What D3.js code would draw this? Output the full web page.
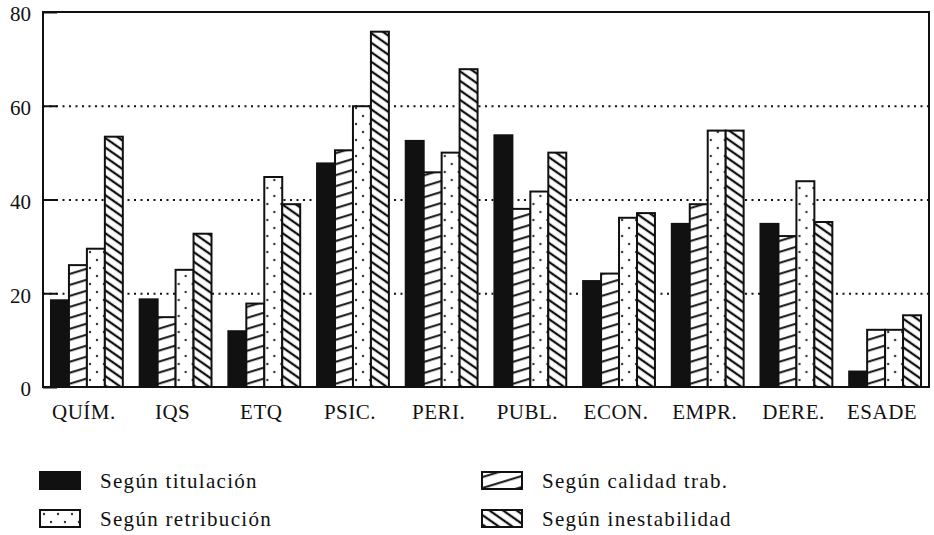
<!DOCTYPE html>
<html>
<head>
<meta charset="utf-8">
<script src="https://cdn.jsdelivr.net/npm/d3@7"></script>
<style>
body { margin: 0; background: white; }
svg text { font-family: "Liberation Serif", "Times New Roman", serif; fill: #111; }
.axis text { font-size: 21px; }
.legend text { font-size: 21px; letter-spacing: 1.3px; }
</style>
</head>
<body>
<script>

const categories = ["QUÍM.", "IQS", "ETQ", "PSIC.", "PERI.", "PUBL.", "ECON.", "EMPR.", "DERE.", "ESADE"];
const titulacion    = [18.5, 18.7, 11.9, 47.7, 52.5, 53.7, 22.6, 34.8, 34.8, 3.3];
const calidad       = [26.0, 14.9, 17.8, 50.5, 45.8, 38.0, 24.2, 39.0, 32.2, 12.2];
const retribucion   = [29.5, 25.0, 44.8, 59.9, 50.0, 41.7, 36.1, 54.7, 43.9, 12.2];
const inestabilidad = [53.4, 32.7, 39.0, 75.8, 67.8, 50.0, 37.1, 54.7, 35.2, 15.3];
const yTicks = [0, 20, 40, 60, 80];

const series = [
  {key: "titulacion", label: "Según titulación", values: titulacion, fill: "#111"},
  {key: "calidad", label: "Según calidad trab.", values: calidad, fill: "url(#slash)"},
  {key: "retribucion", label: "Según retribución", values: retribucion, fill: "url(#dots)"},
  {key: "inestabilidad", label: "Según inestabilidad", values: inestabilidad, fill: "url(#backslash)"}
];

const svg = d3.select("body").append("svg")
  .attr("width", 934)
  .attr("height", 535);

// patterns
const defs = svg.append("defs");
const slash = defs.append("pattern").attr("id", "slash")
  .attr("patternUnits", "userSpaceOnUse")
  .attr("width", 10).attr("height", 10.5)
  .attr("patternTransform", "rotate(-17)");
slash.append("rect").attr("width", 10).attr("height", 10.5).attr("fill", "white");
slash.append("line").attr("x1", 0).attr("x2", 10).attr("y1", 5).attr("y2", 5)
  .attr("stroke", "#111").attr("stroke-width", 2);

const back = defs.append("pattern").attr("id", "backslash")
  .attr("patternUnits", "userSpaceOnUse")
  .attr("width", 10).attr("height", 7.8)
  .attr("patternTransform", "rotate(35)");
back.append("rect").attr("width", 10).attr("height", 7.8).attr("fill", "white");
back.append("line").attr("x1", 0).attr("x2", 10).attr("y1", 3.9).attr("y2", 3.9)
  .attr("stroke", "#111").attr("stroke-width", 2.3);

const dots = defs.append("pattern").attr("id", "dots")
  .attr("patternUnits", "userSpaceOnUse")
  .attr("width", 14).attr("height", 16);
dots.append("rect").attr("width", 14).attr("height", 16).attr("fill", "white");
dots.append("circle").attr("cx", 4).attr("cy", 4).attr("r", 1.2).attr("fill", "#333");
dots.append("circle").attr("cx", 11).attr("cy", 12).attr("r", 1.2).attr("fill", "#333");

const plotLeft = 43, plotRight = 929, plotTop = 12, plotBottom = 387;

const x = d3.scaleBand()
  .domain(categories)
  .range([plotLeft, plotRight])
  .paddingInner(0.19)
  .paddingOuter(0.09);

const xInner = d3.scaleBand()
  .domain(series.map(s => s.key))
  .range([0, x.bandwidth()]);

const y = d3.scaleLinear()
  .domain([0, 80])
  .range([plotBottom, plotTop]);

// dotted grid lines
const grid = svg.append("g")
  .attr("transform", `translate(${plotLeft},0)`)
  .call(d3.axisLeft(y).tickValues([20, 40, 60]).tickSize(-(plotRight - plotLeft)).tickFormat(""));
grid.select(".domain").remove();
grid.selectAll("line")
  .attr("stroke", "#111")
  .attr("stroke-width", 1.8)
  .attr("stroke-dasharray", "2,4.5");

// bars
const groups = svg.append("g").selectAll("g")
  .data(categories)
  .join("g")
  .attr("transform", d => `translate(${x(d)},0)`);

groups.selectAll("rect")
  .data((d, i) => series.map(s => ({key: s.key, fill: s.fill, value: s.values[i]})))
  .join("rect")
  .attr("x", d => xInner(d.key))
  .attr("y", d => y(d.value))
  .attr("width", xInner.bandwidth())
  .attr("height", d => y(0) - y(d.value))
  .attr("fill", d => d.fill)
  .attr("stroke", "#111")
  .attr("stroke-width", 2);

// frame
svg.append("rect")
  .attr("x", plotLeft).attr("y", plotTop)
  .attr("width", plotRight - plotLeft).attr("height", plotBottom - plotTop)
  .attr("fill", "none")
  .attr("stroke", "#111")
  .attr("stroke-width", 2);

// y axis with inward ticks
const yAxis = svg.append("g")
  .attr("class", "axis")
  .attr("transform", `translate(${plotLeft},0)`)
  .call(d3.axisLeft(y).tickValues(yTicks).tickSize(-14).tickPadding(12));
yAxis.select(".domain").remove();
yAxis.selectAll("line").attr("stroke", "#111").attr("stroke-width", 2);
yAxis.selectAll("text").attr("dy", "0.42em");

// x labels
const xAxis = svg.append("g")
  .attr("class", "axis")
  .attr("transform", `translate(0,${plotBottom})`)
  .call(d3.axisBottom(x).tickSize(0).tickPadding(17));
xAxis.select(".domain").remove();
xAxis.selectAll("text").attr("dx", -3).style("letter-spacing", "0.5px");

// legend
const legendItems = [
  {s: series[0], x: 40, y: 472},
  {s: series[2], x: 40, y: 510},
  {s: series[1], x: 482, y: 472},
  {s: series[3], x: 482, y: 510}
];
const legend = svg.append("g").attr("class", "legend")
  .selectAll("g").data(legendItems).join("g")
  .attr("transform", d => `translate(${d.x},${d.y})`);
legend.append("rect")
  .attr("width", 40).attr("height", 17)
  .attr("fill", d => d.s.fill)
  .attr("stroke", "#111")
  .attr("stroke-width", 2);
legend.append("text")
  .attr("x", 60).attr("y", 16)
  .text(d => d.s.label);

</script>
</body>
</html>
